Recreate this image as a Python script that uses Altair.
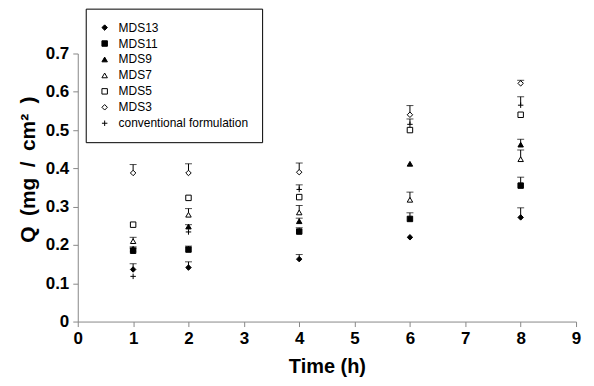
import altair as alt
import pandas as pd

times = [1, 2, 4, 6, 8]
series_names = ["MDS13", "MDS11", "MDS9", "MDS7", "MDS5", "MDS3", "conventional formulation"]

mds13 = [0.136, 0.141, 0.163, 0.220, 0.272]
mds13_err = [0.015, 0.015, 0.012, 0.0, 0.025]
mds11 = [0.185, 0.188, 0.235, 0.268, 0.355]
mds11_err = [0.007, 0.009, 0.010, 0.016, 0.022]
mds9 = [0.190, 0.248, 0.262, 0.412, 0.462]
mds9_err = [0.005, 0.005, 0.008, 0.0, 0.014]
mds7 = [0.210, 0.279, 0.285, 0.318, 0.424]
mds7_err = [0.010, 0.016, 0.018, 0.020, 0.024]
mds5 = [0.253, 0.323, 0.325, 0.500, 0.540]
mds5_err = [0.0, 0.0, 0.0, 0.0, 0.0]
mds3 = [0.388, 0.388, 0.390, 0.540, 0.622]
mds3_err = [0.022, 0.024, 0.024, 0.024, 0.008]
conv = [0.118, 0.234, 0.345, 0.515, 0.565]
conv_err = [0.0, 0.0, 0.012, 0.014, 0.022]

x_ticks = [0, 1, 2, 3, 4, 5, 6, 7, 8, 9]
y_ticks = [0, 0.1, 0.2, 0.3, 0.4, 0.5, 0.6, 0.7]

values = [mds13, mds11, mds9, mds7, mds5, mds3, conv]
errors = [mds13_err, mds11_err, mds9_err, mds7_err, mds5_err, mds3_err, conv_err]

plus_path = "M-1,0H1M0,-1V1"
shapes = ["diamond", "square", "triangle-up", "triangle-up", "square", "diamond", plus_path]
fills = ["black", "black", "black", "white", "white", "white", "black"]

rows = []
for name, vals, errs in zip(series_names, values, errors):
    for t, v, e in zip(times, vals, errs):
        rows.append({"series": name, "time": t, "q": v, "top": v + e, "err": e})
df = pd.DataFrame(rows)

FONT = "Liberation Sans"

x_axis = alt.Axis(title="Time (h)", values=x_ticks, format="d")
y_axis = alt.Axis(title="Q\u2002(mg\u2002/\u2002cm²\u2002)", values=y_ticks,
                  labelExpr="datum.value == 0 ? '0' : format(datum.value, '.1f')",
                  titleX=-49, titleY=116, titleBaseline="middle", titleAlign="center",
                  titleFontSize=21, labelOverlap=False)
x_scale = alt.Scale(domain=[0, 9], nice=False)
y_scale = alt.Scale(domain=[0, 0.7], nice=False)

x_enc = alt.X("time:Q", scale=x_scale, axis=x_axis)
y_enc = alt.Y("q:Q", scale=y_scale, axis=y_axis)

base = alt.Chart(df)
has_err = alt.datum.err > 0

rules = base.transform_filter(has_err).mark_rule(color="black", strokeWidth=1).encode(
    x=x_enc, y=y_enc, y2="top:Q")
caps = base.transform_filter(has_err).mark_tick(
    color="black", orient="horizontal", size=7, thickness=1).encode(
    x=alt.X("time:Q", scale=x_scale, axis=x_axis),
    y=alt.Y("top:Q", scale=y_scale, axis=y_axis))

legend_cfg = dict(title=None, orient="none", legendX=8, legendY=-45,
                  strokeColor="black", fillColor="white", padding=13,
                  labelFont=FONT, labelFontSize=12, labelColor="black",
                  rowPadding=4, symbolSize=30, symbolStrokeWidth=1,
                  labelOffset=8, cornerRadius=0)

points = base.mark_point(size=30, strokeWidth=1, opacity=1, filled=False).encode(
    x=x_enc, y=y_enc,
    shape=alt.Shape("series:N", scale=alt.Scale(domain=series_names, range=shapes),
                    legend=alt.Legend(**legend_cfg)),
    fill=alt.Fill("series:N", scale=alt.Scale(domain=series_names, range=fills),
                  legend=alt.Legend(**legend_cfg)),
    stroke=alt.Stroke("series:N", scale=alt.Scale(domain=series_names, range=["black"] * 7),
                      legend=alt.Legend(**legend_cfg)),
)

chart = alt.layer(rules, caps, points).properties(
    width=500, height=269,
    autosize=alt.AutoSizeParams(type="none"),
    padding={"left": 70, "top": 45, "right": 10, "bottom": 60},
).configure_view(stroke=None).configure_axis(
    grid=False, domainColor="#888888", tickColor="#888888", tickSize=5,
    labelFont=FONT, labelFontWeight="bold", labelFontSize=17, labelColor="black",
    titleFont=FONT, titleFontWeight="bold", titleFontSize=20, titleColor="black",
).configure_axisY(labelPadding=4).configure_axisX(
    labelPadding=4, titlePadding=10, labelFlush=False)

chart.save("out.html", embed_options={"renderer": "svg", "actions": False})
